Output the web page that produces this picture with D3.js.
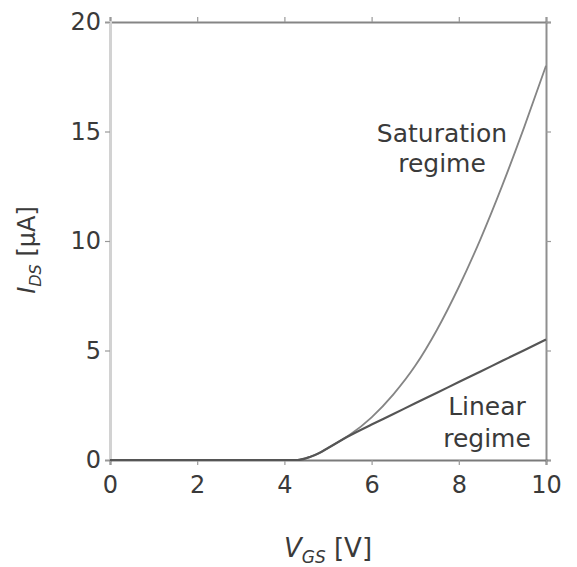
<!DOCTYPE html>
<html>
<head>
<meta charset="utf-8">
<script src="https://d3js.org/d3.v7.min.js"></script>
<style>
  body { margin: 0; background: #fff; }
  text { font-family: "DejaVu Sans", sans-serif; fill: #3a3a3a; }
</style>
</head>
<body>
<div id="chart"></div>
<script>
// gate voltage samples [V]
var vgs = [0, 4, 4.3, 4.6, 4.8, 5, 5.5, 6, 6.5, 7, 7.5, 8, 8.5, 9, 9.5, 10]
// drain current, saturation regime [uA]
var iSat = [0, 0, 0, 0.15, 0.32, 0.55, 1.15, 1.95, 3.0, 4.3, 5.95, 7.9, 10.1, 12.55, 15.2, 18.0]
// drain current, linear regime [uA]
var iLin = [0, 0, 0, 0.15, 0.32, 0.55, 1.12, 1.62, 2.1, 2.59, 3.07, 3.56, 4.04, 4.53, 5.01, 5.5]

var xTicks = [0, 2, 4, 6, 8, 10]
var yTicks = [0, 5, 10, 15, 20]

var width = 577, height = 567
// plot frame (note: "top" is reserved on window, so use other names)
var plotL = 110, plotR = 546, plotT = 22, plotB = 460

var svg = d3.select("#chart").append("svg")
  .attr("width", width)
  .attr("height", height)

var x = d3.scaleLinear().domain([0, 10]).range([plotL, plotR])
var y = d3.scaleLinear().domain([0, 20]).range([plotB, plotT])

// frame ticks on all four sides
function styleAxis(g, color, w) {
  g.select(".domain").attr("stroke", color).attr("stroke-width", w)
  g.selectAll(".tick line").attr("stroke", "#999").attr("stroke-width", 1.2)
  g.selectAll(".tick text").style("font-size", "24px").attr("fill", "#3a3a3a")
}

svg.append("g").attr("transform", "translate(0," + plotT + ")")
  .call(d3.axisTop(x).tickValues(xTicks).tickSize(5).tickFormat(""))
  .call(styleAxis, "#858585", 2)

svg.append("g").attr("transform", "translate(" + plotR + ",0)")
  .call(d3.axisRight(y).tickValues(yTicks).tickSize(5).tickFormat(""))
  .call(styleAxis, "#8f8f8f", 2)

svg.append("g").attr("transform", "translate(" + plotL + ",0)")
  .call(d3.axisLeft(y).tickValues(yTicks).tickSize(5).tickPadding(4))
  .call(styleAxis, "#d2d2d2", 3)

svg.append("g").attr("transform", "translate(0," + plotB + ")")
  .call(d3.axisBottom(x).tickValues(xTicks).tickSize(5).tickPadding(11))
  .call(styleAxis, "#7a7a7a", 2)

svg.selectAll(".tick text").attr("font-family", "DejaVu Sans")

var line = d3.line()
  .x(function (d) { return x(d[0]) })
  .y(function (d) { return y(d[1]) })
  .curve(d3.curveMonotoneX)

svg.append("path")
  .datum(d3.zip(vgs, iSat))
  .attr("d", line)
  .attr("fill", "none")
  .attr("stroke", "#858585")
  .attr("stroke-width", 1.8)

svg.append("path")
  .datum(d3.zip(vgs, iLin))
  .attr("d", line)
  .attr("fill", "none")
  .attr("stroke", "#555")
  .attr("stroke-width", 2.2)

// annotations
var notes = [
  { t: "Saturation", cx: 442, by: 142 },
  { t: "regime", cx: 442, by: 172 },
  { t: "Linear", cx: 487, by: 415 },
  { t: "regime", cx: 487, by: 447 }
]
svg.selectAll("text.note")
  .data(notes)
  .enter().append("text")
  .attr("class", "note")
  .attr("x", function (d) { return d.cx })
  .attr("y", function (d) { return d.by })
  .attr("text-anchor", "middle")
  .style("font-size", "25px")
  .text(function (d) { return d.t })

// x axis title
var xl = svg.append("text")
  .attr("x", (plotL + plotR) / 2)
  .attr("y", 557)
  .attr("text-anchor", "middle")
  .style("font-size", "26px")
xl.append("tspan").attr("font-style", "italic").text("V")
xl.append("tspan").attr("dy", 6).style("font-size", "17px").attr("font-style", "italic").text("GS")
xl.append("tspan").attr("dy", -6).text(" [V]")

// y axis title
var yl = svg.append("text")
  .attr("transform", "translate(35," + 250 + ") rotate(-90)")
  .attr("text-anchor", "middle")
  .style("font-size", "24px")
yl.append("tspan").attr("font-style", "italic").text("I")
yl.append("tspan").attr("dy", 6).style("font-size", "16px").attr("font-style", "italic").text("DS")
yl.append("tspan").attr("dy", -6).text(" [μA]")
</script>
</body>
</html>
